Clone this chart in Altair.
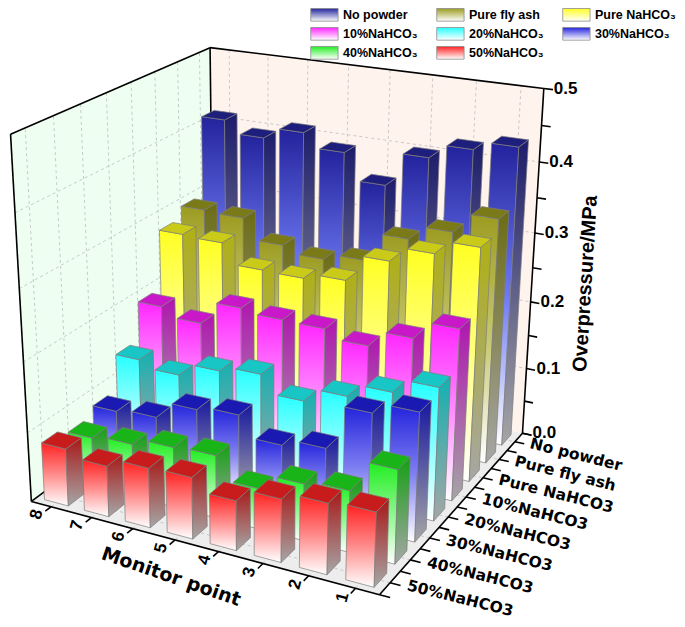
import altair as alt
import numpy as np
import pandas as pd

# ---------------- data ----------------
points = [1, 2, 3, 4, 5, 6, 7, 8]
series = ["No powder", "Pure fly ash", "Pure NaHCO3", "10%NaHCO3",
          "20%NaHCO3", "30%NaHCO3", "40%NaHCO3", "50%NaHCO3"]
legend_names = ["No powder", "Pure fly ash", "Pure NaHCO\u2083", "10%NaHCO\u2083",
                "20%NaHCO\u2083", "30%NaHCO\u2083", "40%NaHCO\u2083", "50%NaHCO\u2083"]
# overpressure (MPa) at monitor points 1..8
no_powder   = [0.432, 0.420, 0.400, 0.352, 0.390, 0.410, 0.394, 0.412]
fly_ash     = [0.352, 0.324, 0.304, 0.263, 0.254, 0.264, 0.294, 0.296]
pure_nahco3 = [0.333, 0.314, 0.293, 0.255, 0.247, 0.248, 0.277, 0.279]
nahco3_10   = [0.244, 0.219, 0.196, 0.208, 0.209, 0.214, 0.180, 0.193]
nahco3_20   = [0.188, 0.168, 0.149, 0.129, 0.154, 0.146, 0.127, 0.137]
nahco3_30   = [0.180, 0.165, 0.102, 0.092, 0.121, 0.115, 0.090, 0.085]
nahco3_40   = [0.130, 0.086, 0.080, 0.058, 0.090, 0.087, 0.077, 0.072]
nahco3_50   = [0.102, 0.098, 0.088, 0.070, 0.087, 0.085, 0.073, 0.083]
values = [no_powder, fly_ash, pure_nahco3, nahco3_10, nahco3_20, nahco3_30, nahco3_40, nahco3_50]
value_ticks = [0.0, 0.1, 0.2, 0.3, 0.4, 0.5]

# ---------------- colours ----------------
front_colors = ["#23239C", "#9C9C22", "#FFFF22", "#FF26FF", "#26FFFF", "#2424DC", "#22EE22", "#FF2222"]
front_mid    = ["#6C78F2", "#C6C670", "#FFFF88", "#FF8EFF", "#90FFFF", "#8080F2", "#8CF68C", "#FF8C8C"]
side_colors  = ["#1C1C6C", "#6C6C14", "#B0B014", "#B014B0", "#14B0B0", "#1818A0", "#14A014", "#A81818"]
top_colors   = ["#1E1E7C", "#7A7A18", "#CACA18", "#C818C8", "#18C6C6", "#1A1AB2", "#18B418", "#C81C1C"]
wall_names = ["back", "left", "floor"]
wall_colors = ["#FFF3EE", "#EEFFF1", "#EDEDED"]
FONT = "Liberation Sans"
FONT_WIDE = "DejaVu Sans"

N_PTS = len(points)
N_SER = len(series)
VMAX = value_ticks[-1]
YS = 10.0
HMAX = VMAX * YS
HW = 0.3

# ---------------- perspective camera fitted to the reference box ----------------
world = np.array([[0, 0, 0], [N_PTS, 0, 0], [N_PTS, 0, N_SER], [N_PTS, HMAX, N_SER],
                  [0, HMAX, N_SER], [0, HMAX, 0], [0, 0, N_SER]], float)
screen = np.array([[23, 505], [382, 602], [526, 437], [548, 82],
                   [208, 40], [2, 131], [211, 369]], float)
A, b = [], []
for (X, Y, Z), (u, v) in zip(world, screen):
    A.append([X, Y, Z, 1, 0, 0, 0, 0, -u * X, -u * Y, -u * Z]); b.append(u)
    A.append([0, 0, 0, 0, X, Y, Z, 1, -v * X, -v * Y, -v * Z]); b.append(v)
P = np.linalg.lstsq(np.array(A), np.array(b), rcond=None)[0]
C = [f"({c:.10g})" for c in P]


def proj(X, Y, Z):
    den = f"({C[8]}*({X})+{C[9]}*({Y})+{C[10]}*({Z})+1)"
    u = f"(({C[0]}*({X})+{C[1]}*({Y})+{C[2]}*({Z})+{C[3]})/{den})"
    v = f"(({C[4]}*({X})+{C[5]}*({Y})+{C[6]}*({Z})+{C[7]})/{den})"
    return u, v


def edge_expr(i, j, mode):
    ui, uj, vi, vj = f"datum.u{i}", f"datum.u{j}", f"datum.v{i}", f"datum.v{j}"
    s = "1e9" if mode == "min" else "-1e9"
    return (f"(abs({uj}-{ui})<1e-6?(abs(datum.uk-{ui})<1e-6?{mode}({vi},{vj}):{s}):"
            f"((datum.uk>=min({ui},{uj})-1e-6&&datum.uk<=max({ui},{uj})+1e-6)?"
            f"({vi}+({vj}-{vi})*(datum.uk-{ui})/({uj}-{ui})):{s}))")


def add_quad(ch):
    for i in range(4):
        u, v = proj(f"datum.X{i}", f"datum.Y{i}", f"datum.Z{i}")
        ch = ch.transform_calculate(**{f"u{i}": u, f"v{i}": v})
    ch = ch.transform_calculate(
        uk="datum.k==0?datum.u0:(datum.k==1?datum.u1:(datum.k==2?datum.u2:datum.u3))")
    edges = [(0, 1), (1, 2), (2, 3), (3, 0)]
    ch = ch.transform_calculate(
        vt="min(" + ",".join(edge_expr(i, j, "min") for i, j in edges) + ")",
        vb="max(" + ",".join(edge_expr(i, j, "max") for i, j in edges) + ")")
    return ch


XS = alt.Scale(domain=[0, 685], nice=False, zero=False)
YSC = alt.Scale(domain=[0, 627], nice=False, zero=False, reverse=True)


def area_enc(ch):
    return ch.encode(x=alt.X("uk:Q", scale=XS, axis=None),
                     y=alt.Y("vt:Q", scale=YSC, axis=None, stack=None),
                     y2=alt.Y2("vb:Q"),
                     detail="qid:N")


def grad(stops):
    return {"gradient": "linear", "x1": 0, "y1": 0, "x2": 0, "y2": 1,
            "stops": [{"offset": o, "color": c} for o, c in stops]}


# ---------------- walls ----------------
wall_quads = {
    "back": [(0, 0, N_SER), (N_PTS, 0, N_SER), (N_PTS, HMAX, N_SER), (0, HMAX, N_SER)],
    "left": [(0, 0, 0), (0, 0, N_SER), (0, HMAX, N_SER), (0, HMAX, 0)],
    "floor": [(0, 0, 0), (N_PTS, 0, 0), (N_PTS, 0, N_SER), (0, 0, N_SER)],
}
wrows = []
for w, cs in wall_quads.items():
    for k in range(4):
        r = {"wall": w, "qid": w, "k": k}
        for i, (x, y, z) in enumerate(cs):
            r[f"X{i}"], r[f"Y{i}"], r[f"Z{i}"] = x, y, z
        wrows.append(r)
walls = area_enc(add_quad(alt.Chart(pd.DataFrame(wrows))).mark_area(
    orient="vertical", opacity=1)).encode(
    color=alt.Color("wall:N", scale=alt.Scale(domain=wall_names, range=wall_colors), legend=None))

# ---------------- segments (grid, edges, ticks) ----------------
xcs = [N_PTS + 0.5 - p for p in points]
zcs = [N_SER - 0.5 - s for s in range(N_SER)]
segs = []


def seg(kind, a, bb):
    segs.append({"kind": kind, "Xa": a[0], "Ya": a[1], "Za": a[2], "Xb": bb[0], "Yb": bb[1], "Zb": bb[2]})


for xc in xcs:
    seg("grid", (xc, 0, N_SER), (xc, HMAX, N_SER))
    seg("grid", (xc, 0, 0), (xc, 0, N_SER))
for zc in zcs:
    seg("grid", (0, 0, zc), (0, HMAX, zc))
    seg("grid", (0, 0, zc), (N_PTS, 0, zc))
for t in value_ticks[1:-1]:
    seg("grid", (0, t * YS, N_SER), (N_PTS, t * YS, N_SER))
    seg("grid", (0, t * YS, 0), (0, t * YS, N_SER))
seg("back", (0, HMAX, 0), (0, HMAX, N_SER))
seg("back", (0, HMAX, N_SER), (N_PTS, HMAX, N_SER))
seg("back", (0, 0, N_SER), (0, HMAX, N_SER))
seg("back", (0, 0, 0), (0, HMAX, 0))
seg("back", (0, 0, 0), (0, 0, N_SER))
seg("front", (0, 0, 0), (N_PTS, 0, 0))
seg("front", (N_PTS, 0, 0), (N_PTS, 0, N_SER))
seg("front", (N_PTS, 0, N_SER), (N_PTS, HMAX, N_SER))
for i in range(len(value_ticks) * 2 - 1):
    y = i * 0.05 * YS
    seg("front", (N_PTS, y, N_SER), (N_PTS + 0.2, y, N_SER))
for xc in xcs:
    seg("front", (xc, 0, 0), (xc, 0, -0.22))
for i in range(2 * N_SER + 1):
    z = i * 0.5
    seg("front", (N_PTS, 0, z), (N_PTS + 0.22, 0, z))
seg_df = pd.DataFrame(segs)

ua, va = proj("datum.Xa", "datum.Ya", "datum.Za")
ub, vb = proj("datum.Xb", "datum.Yb", "datum.Zb")
seg_base = alt.Chart(seg_df).transform_calculate(sua=ua, sva=va, sub=ub, svb=vb).encode(
    x=alt.X("sua:Q", scale=XS, axis=None), y=alt.Y("sva:Q", scale=YSC, axis=None),
    x2=alt.X2("sub:Q"), y2=alt.Y2("svb:Q"))
grid = seg_base.transform_filter("datum.kind=='grid'").mark_rule(
    color="#BDBDBD", strokeWidth=0.8, strokeDash=[3, 3])
back_edges = seg_base.transform_filter("datum.kind=='back'").mark_rule(color="black", strokeWidth=1.6)
front_edges = seg_base.transform_filter("datum.kind=='front'").mark_rule(color="black", strokeWidth=1.6)

# ---------------- bars ----------------
face_shapes = {
    "front": [(-1, 0, -1), (1, 0, -1), (1, 1, -1), (-1, 1, -1)],
    "side": [(1, 0, -1), (1, 0, 1), (1, 1, 1), (1, 1, -1)],
    "top": [(-1, 1, -1), (1, 1, -1), (1, 1, 1), (-1, 1, 1)],
}
brows = []
for si, (name, vals) in enumerate(zip(series, values)):
    for pt, val in zip(points, vals):
        for face, corners in face_shapes.items():
            for k in range(4):
                r = {"series": name, "si": si, "point": pt, "value": val, "face": face,
                     "k": k, "qid": f"{si}-{pt}-{face}"}
                for i, (dx, dy, dz) in enumerate(corners):
                    r[f"dx{i}"], r[f"dy{i}"], r[f"dz{i}"] = dx, dy, dz
                brows.append(r)
bar_df = pd.DataFrame(brows)

bar_base = alt.Chart(bar_df)
for i in range(4):
    bar_base = bar_base.transform_calculate(**{
        f"X{i}": f"({N_PTS}+0.5-datum.point)+datum.dx{i}*{HW}",
        f"Y{i}": f"datum.dy{i}*datum.value*{YS}",
        f"Z{i}": f"({N_SER}-0.5-datum.si)+datum.dz{i}*{HW}",
    })
bar_base = add_quad(bar_base)

bar_layers = []
for si in range(N_SER):
    fills = {
        "front": grad([(0, front_colors[si]), (0.5, front_mid[si]), (1, "#FFFFFF")]),
        "side": grad([(0, side_colors[si]), (1, "#A6A6A6")]),
        "top": top_colors[si],
    }
    for face in ["front", "side", "top"]:
        lay = area_enc(bar_base.transform_filter(
            f"datum.si=={si} && datum.face=='{face}'").mark_area(
            orient="vertical", fill=fills[face], opacity=1,
            stroke="#7C7C7C", strokeWidth=0.7))
        bar_layers.append(lay)

# ---------------- labels ----------------
labs = []
for t in value_ticks:
    labs.append({"kind": "value", "X": N_PTS, "Y": t * YS, "Z": N_SER, "text": f"{t:.1f}"})
for p, xc in zip(points, xcs):
    labs.append({"kind": "point", "X": xc - 0.08, "Y": 0, "Z": -0.42, "text": str(p)})
for s, zc in zip(series, zcs):
    labs.append({"kind": "series", "X": N_PTS + 0.36, "Y": 0.03, "Z": zc, "text": s})
labs.append({"kind": "xtitle", "X": 4.16, "Y": 0, "Z": -1.3, "text": "Monitor point"})
labs.append({"kind": "ytitle", "X": N_PTS + 1.2, "Y": 2.4, "Z": N_SER, "text": "Overpressure/MPa"})
lab_df = pd.DataFrame(labs)
tu, tv = proj("datum.X", "datum.Y", "datum.Z")
lab_base = alt.Chart(lab_df).transform_calculate(tu=tu, tv=tv).encode(
    x=alt.X("tu:Q", scale=XS, axis=None), y=alt.Y("tv:Q", scale=YSC, axis=None), text="text:N")
value_labels = lab_base.transform_filter("datum.kind=='value'").mark_text(
    font=FONT, fontWeight="bold", fontSize=17, align="left", baseline="middle", dx=10)
point_labels = lab_base.transform_filter("datum.kind=='point'").mark_text(
    font=FONT, fontWeight="bold", fontSize=17, align="center", baseline="middle", angle=285)
series_labels = lab_base.transform_filter("datum.kind=='series'").mark_text(
    font=FONT_WIDE, fontWeight="bold", fontSize=15.5, align="left", baseline="middle", angle=14)
xtitle = lab_base.transform_filter("datum.kind=='xtitle'").mark_text(
    font=FONT_WIDE, fontWeight="bold", fontSize=19, align="center", baseline="middle", angle=19)
ytitle = lab_base.transform_filter("datum.kind=='ytitle'").mark_text(
    font=FONT, fontWeight="bold", fontSize=20, align="center", baseline="middle", angle=273.5)

# ---------------- legend ----------------
leg_df = pd.DataFrame({"name": legend_names, "idx": list(range(N_SER))})
leg_base = alt.Chart(leg_df).transform_calculate(
    col="datum.idx % 3", row="floor(datum.idx / 3)").transform_calculate(
    lx="310 + datum.col * 129", ly="7 + datum.row * 19.5").transform_calculate(
    lx2="datum.lx + 28", ly1="datum.ly - 6.5", ly2="datum.ly + 6.5", tx="datum.lx + 33")
leg_layers = []
for si in range(N_SER):
    leg_layers.append(leg_base.transform_filter(f"datum.idx=={si}").mark_rect(
        fill=grad([(0, front_colors[si]), (1, "#FFFFFF")]), stroke="#8C8C8C", strokeWidth=0.8).encode(
        x=alt.X("lx:Q", scale=XS, axis=None), x2=alt.X2("lx2:Q"),
        y=alt.Y("ly1:Q", scale=YSC, axis=None), y2=alt.Y2("ly2:Q")))
leg_text = leg_base.mark_text(font=FONT, fontWeight="bold", fontSize=12.5, align="left",
                              baseline="middle").encode(
    x=alt.X("tx:Q", scale=XS, axis=None), y=alt.Y("ly:Q", scale=YSC, axis=None), text="name:N")

chart = alt.layer(
    walls, grid, back_edges, *bar_layers, front_edges,
    value_labels, point_labels, series_labels, xtitle, ytitle,
    *leg_layers, leg_text
).properties(width=669, height=611, autosize="none", padding=0).configure_view(stroke=None)

chart.save("out.html", embed_options={"renderer": "svg", "actions": False})
